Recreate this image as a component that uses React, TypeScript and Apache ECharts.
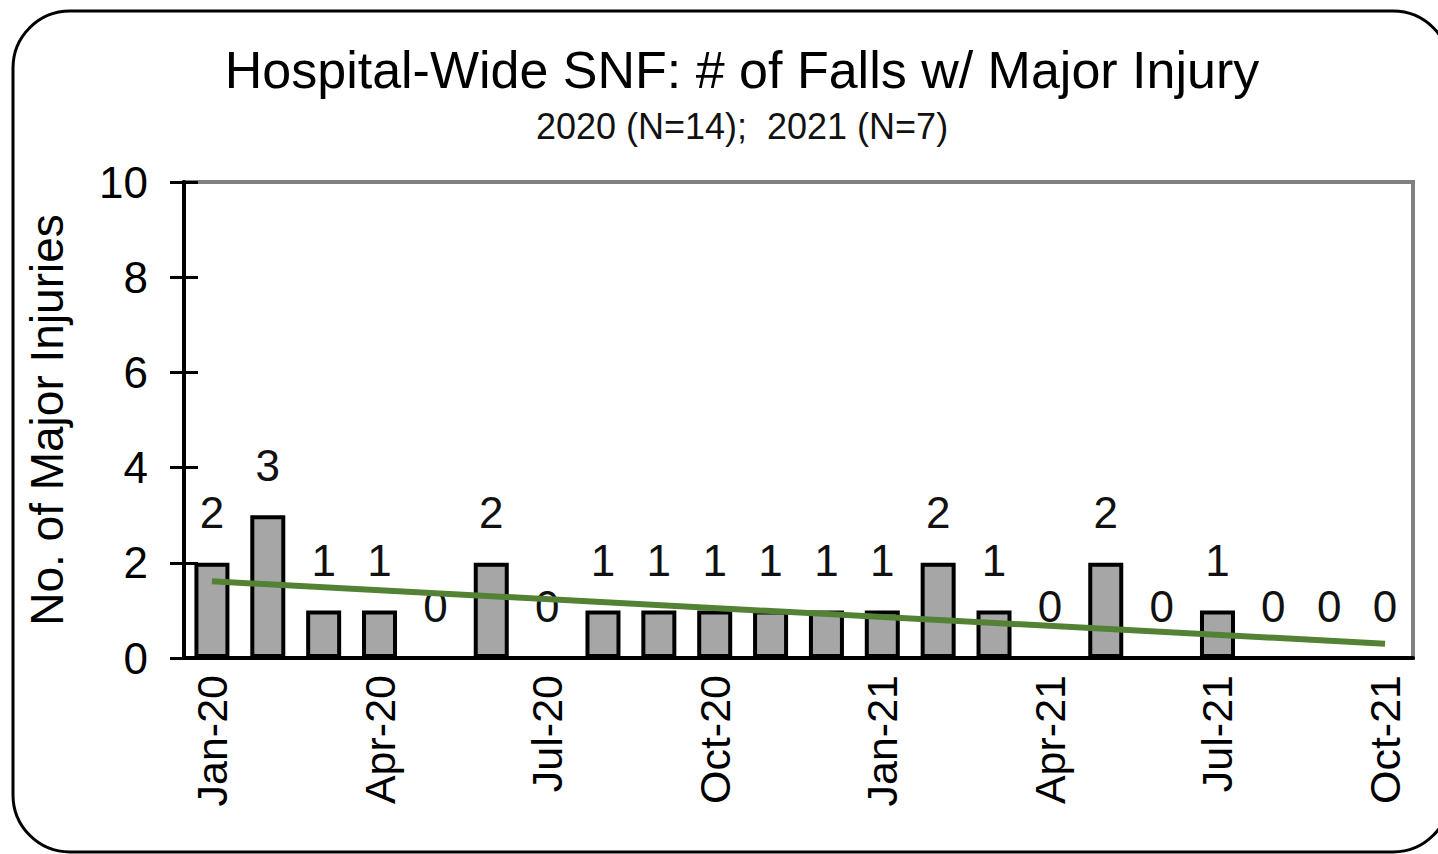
import React, { useEffect, useRef } from "react";
import * as echarts from "echarts";

const months = [
  "Jan-20", "Feb-20", "Mar-20", "Apr-20", "May-20", "Jun-20", "Jul-20", "Aug-20",
  "Sep-20", "Oct-20", "Nov-20", "Dec-20", "Jan-21", "Feb-21", "Mar-21", "Apr-21",
  "May-21", "Jun-21", "Jul-21", "Aug-21", "Sep-21", "Oct-21",
];
const injuries = [2, 3, 1, 1, 0, 2, 0, 1, 1, 1, 1, 1, 1, 2, 1, 0, 2, 0, 1, 0, 0, 0];
const trendMonths = ["Jan-20", "Oct-21"];
const trendValues = [1.61, 0.3];
const yTicks = { min: 0, max: 10, interval: 2 };

const titleText = "Hospital-Wide SNF: # of Falls w/ Major Injury";
const subtitleText = "2020 (N=14);  2021 (N=7)";
const yAxisName = "No. of Major Injuries";

const FONT = "'Liberation Sans', Arial, sans-serif";

export default function App() {
  const ref = useRef<HTMLDivElement>(null);
  useEffect(() => {
    if (!ref.current) return;
    const chart = echarts.init(ref.current, null, { renderer: "svg" });
    chart.setOption({
      animation: false,
      backgroundColor: "#fff",
      grid: {
        left: 184,
        right: 25,
        top: 182,
        bottom: 196,
        show: true,
        borderColor: "#808080",
        borderWidth: 4,
        backgroundColor: "transparent",
      },
      graphic: [
        {
          type: "rect",
          shape: { x: 13, y: 11, width: 1437, height: 841, r: 57 },
          style: { fill: "none", stroke: "#000", lineWidth: 3 },
          silent: true,
        },
        {
          type: "text",
          x: 742,
          y: 70,
          style: {
            text: titleText,
            fontFamily: FONT,
            fontSize: 52,
            fill: "#000",
            textAlign: "center",
            textVerticalAlign: "middle",
          },
        },
        {
          type: "text",
          x: 742,
          y: 126,
          style: {
            text: subtitleText,
            fontFamily: FONT,
            fontSize: 36,
            fill: "#111",
            textAlign: "center",
            textVerticalAlign: "middle",
          },
        },
      ],
      xAxis: {
        type: "category",
        data: months,
        boundaryGap: true,
        axisLine: { lineStyle: { color: "#000", width: 4 } },
        axisTick: {
          alignWithLabel: true,
          interval: 0,
          length: 9,
          lineStyle: { color: "#000", width: 3 },
        },
        axisLabel: {
          interval: 2,
          rotate: 90,
          margin: 17,
          fontSize: 43,
          fontFamily: FONT,
          color: "#000",
        },
        splitLine: { show: false },
      },
      yAxis: [
        {
          type: "value",
          ...yTicks,
          name: yAxisName,
          nameLocation: "middle",
          nameGap: 114,
          nameTextStyle: { fontSize: 46, fontFamily: FONT, color: "#000" },
          axisLine: { show: true, lineStyle: { color: "#000", width: 4 } },
          axisTick: { show: true, length: 14, lineStyle: { color: "#000", width: 3 } },
          axisLabel: { margin: 36, fontSize: 44, fontFamily: FONT, color: "#000" },
          splitLine: { show: false },
        },
        {
          type: "value",
          ...yTicks,
          position: "left",
          axisLine: { show: false },
          axisTick: { show: true, inside: true, length: 14, lineStyle: { color: "#000", width: 3 } },
          axisLabel: { show: false },
          splitLine: { show: false },
        },
      ],
      series: [
        {
          type: "bar",
          data: injuries,
          barWidth: 35,
          itemStyle: { color: "#a6a6a6", borderColor: "#000", borderWidth: 4 },
          label: {
            show: true,
            position: "top",
            distance: 28,
            fontSize: 44,
            fontFamily: FONT,
            color: "#111",
          },
          z: 2,
        },
        {
          type: "line",
          data: trendMonths.map((m, i) => [m, trendValues[i]]),
          showSymbol: false,
          symbol: "none",
          lineStyle: { color: "#548235", width: 6 },
          z: 3,
        },
      ],
    });
    return () => chart.dispose();
  }, []);
  return (
    <div
      ref={ref}
      style={{ position: "absolute", left: 0, top: 0, width: 1438, height: 854 }}
    />
  );
}
